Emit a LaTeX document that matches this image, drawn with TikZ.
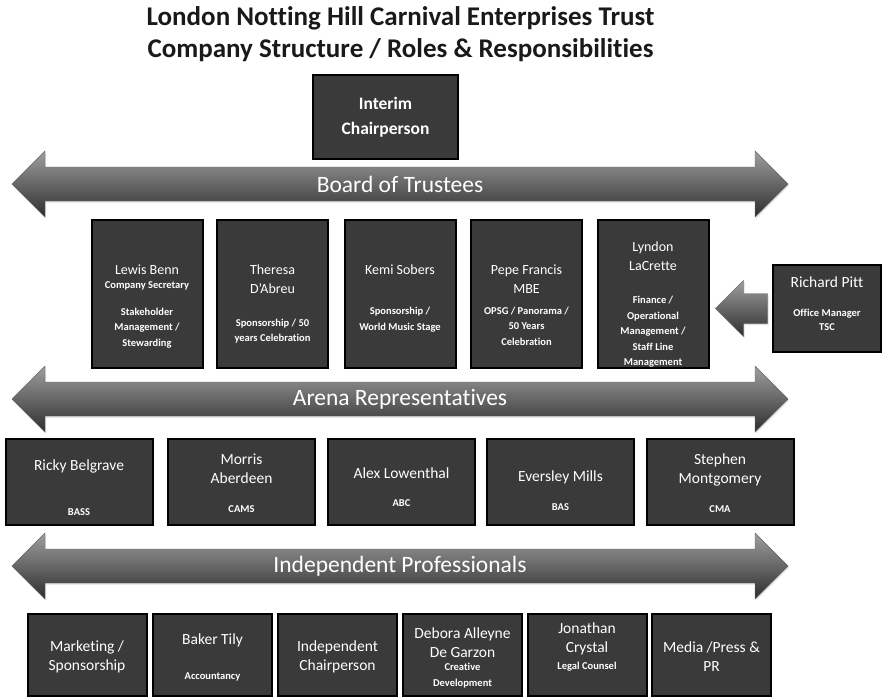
\documentclass[tikz,border=0pt]{standalone}
\usepackage{fontspec}
\setmainfont{Carlito}[Ligatures=NoCommon]
\usetikzlibrary{calc,positioning,shadows}

\definecolor{boxgray}{RGB}{58,58,58}

\tikzset{
  pbox/.style={draw=black, line width=2pt, fill=boxgray, inner sep=0pt},
  pname/.style={text=white, align=center, inner sep=0pt, font=\fontsize{14}{19}\selectfont},
  pbig/.style={pname, font=\fontsize{15.5}{19}\selectfont},
  prole/.style={text=white, align=center, inner sep=0pt, font=\fontsize{10.5}{15.5}\selectfont\bfseries},
  bandarrow/.style={draw=black!60, line width=0.4pt, top color=black!38, bottom color=black!82,
    drop shadow={opacity=0.25, shadow xshift=1pt, shadow yshift=-1.5pt}},
  bandlabel/.style={text=white, inner sep=0pt, font=\fontsize{23.5}{26}\selectfont},
}

\begin{document}
\begin{tikzpicture}[x=1pt,y=-1pt]
    \useasboundingbox (0,0) rectangle (883,698);

    % heading
    \node[align=center, font=\fontsize{27}{32}\selectfont\bfseries, text=black!90] (title) at (400.5,34)
        {London Notting Hill Carnival Enterprises Trust\\Company Structure / Roles \& Responsibilities};

    % the three bands
    \foreach \ay/\nm/\lab in {184/board/Board of Trustees, 399/arena/Arena Representatives, 566/indep/Independent Professionals} {
        \path[bandarrow] (12,\ay) -- (45,\ay-33) -- (45,\ay-17) -- (755,\ay-17) -- (755,\ay-33) -- (788,\ay)
            -- (755,\ay+33) -- (755,\ay+17) -- (45,\ay+17) -- (45,\ay+33) -- cycle;
        \node[bandlabel] (\nm) at (400,\ay) {\lab};
    }

    % chair
    \node[pbox, minimum width=145, minimum height=84] (chair) at (385.5,117) {};
    \node[pname, font=\fontsize{17.5}{25}\selectfont\bfseries] (chair-t) at (chair.center) {Interim\\Chairperson};

    % trustees
    \node[pbox, minimum width=111, minimum height=148] (benn) at (147,294) {};
    \node[pname] (benn-n) at (147,270) {Lewis Benn};
    \node[prole] (benn-s) at (147,286) {Company Secretary};
    \node[prole] (benn-r) at (147,328) {Stakeholder\\Management /\\Stewarding};

    \node[pbox, minimum width=111, minimum height=148] (abreu) at (272.5,294) {};
    \node[pname] (abreu-n) at (272.5,279.5) {Theresa\\D'Abreu};
    \node[prole] (abreu-r) at (272.5,331) {Sponsorship / 50\\years Celebration};

    \node[pbox, minimum width=111, minimum height=148] (sobers) at (400,294) {};
    \node[pname] (sobers-n) at (400,270) {Kemi Sobers};
    \node[prole] (sobers-r) at (400,319.5) {Sponsorship /\\World Music Stage};

    \node[pbox, minimum width=111, minimum height=148] (francis) at (526.5,294) {};
    \node[pname] (francis-n) at (526.5,279.5) {Pepe Francis\\MBE};
    \node[prole] (francis-r) at (526.5,326) {OPSG / Panorama /\\50 Years\\Celebration};

    \node[pbox, minimum width=111, minimum height=148] (lacrette) at (653,294) {};
    \node[pname] (lacrette-n) at (653,256) {Lyndon\\LaCrette};
    \node[prole] (lacrette-r) at (653,332) {Finance /\\Operational\\Management /\\Staff Line\\Management};

    % office manager feeding in from the side
    \node[pbox, minimum width=108, minimum height=87] (pitt) at (827,308.5) {};
    \node[pbig] (pitt-n) at (827,282) {Richard Pitt};
    \node[prole, font=\fontsize{10.5}{14}\selectfont\bfseries] (pitt-r) at (827,320) {Office Manager\\TSC};

    \coordinate (tip) at ($(lacrette.east |- pitt.west)+(6,0)$);
    \path[bandarrow] (tip) -- ++(28,-28) -- ++(0,13) -- ++(24,0) -- ++(0,30) -- ++(-24,0) -- ++(0,13) -- cycle;

    % arena representatives
    \node[pbox, minimum width=147, minimum height=86] (belgrave) at (79,482) {};
    \node[pbig] (belgrave-n) at (79,466) {Ricky Belgrave};
    \node[prole] (belgrave-r) at (79,512) {BASS};

    \node[pbox, minimum width=147, minimum height=86] (aberdeen) at (241.5,482) {};
    \node[pbig] (aberdeen-n) at (241.5,468.5) {Morris\\Aberdeen};
    \node[prole] (aberdeen-r) at (241.5,509) {CAMS};

    \node[pbox, minimum width=147, minimum height=86] (lowenthal) at (401.5,482) {};
    \node[pbig] (lowenthal-n) at (401.5,473) {Alex Lowenthal};
    \node[prole] (lowenthal-r) at (401.5,503) {ABC};

    \node[pbox, minimum width=147, minimum height=86] (mills) at (560.5,482) {};
    \node[pbig] (mills-n) at (560.5,477) {Eversley Mills};
    \node[prole] (mills-r) at (560.5,507) {BAS};

    \node[pbox, minimum width=147, minimum height=86] (montgomery) at (720,482) {};
    \node[pbig] (montgomery-n) at (720,470) {Stephen\\Montgomery};
    \node[prole] (montgomery-r) at (720,509) {CMA};

    % independent professionals
    \node[pbox, minimum width=119, minimum height=82] (marketing) at (87,655) {};
    \node[pbig] (marketing-n) at (87,657) {Marketing /\\Sponsorship};

    \node[pbox, minimum width=119, minimum height=82] (tily) at (212.5,655) {};
    \node[pbig] (tily-n) at (212.5,640) {Baker Tily};
    \node[prole] (tily-r) at (212.5,677) {Accountancy};

    \node[pbox, minimum width=119, minimum height=82] (indchair) at (337.5,655) {};
    \node[pbig] (indchair-n) at (337.5,657) {Independent\\Chairperson};

    \node[pbox, minimum width=119, minimum height=82] (garzon) at (462.5,655) {};
    \node[pbig] (garzon-n) at (462.5,642.5) {Debora Alleyne\\De Garzon};
    \node[prole] (garzon-r) at (462.5,675.5) {Creative\\Development};

    \node[pbox, minimum width=119, minimum height=82] (crystal) at (587,655) {};
    \node[pbig] (crystal-n) at (587,639) {Jonathan\\Crystal};
    \node[prole] (crystal-r) at (587,667) {Legal Counsel};

    \node[pbox, minimum width=119, minimum height=82] (media) at (711.5,655) {};
    \node[pbig] (media-n) at (711.5,657) {Media /Press \&\\PR};
\end{tikzpicture}
\end{document}
